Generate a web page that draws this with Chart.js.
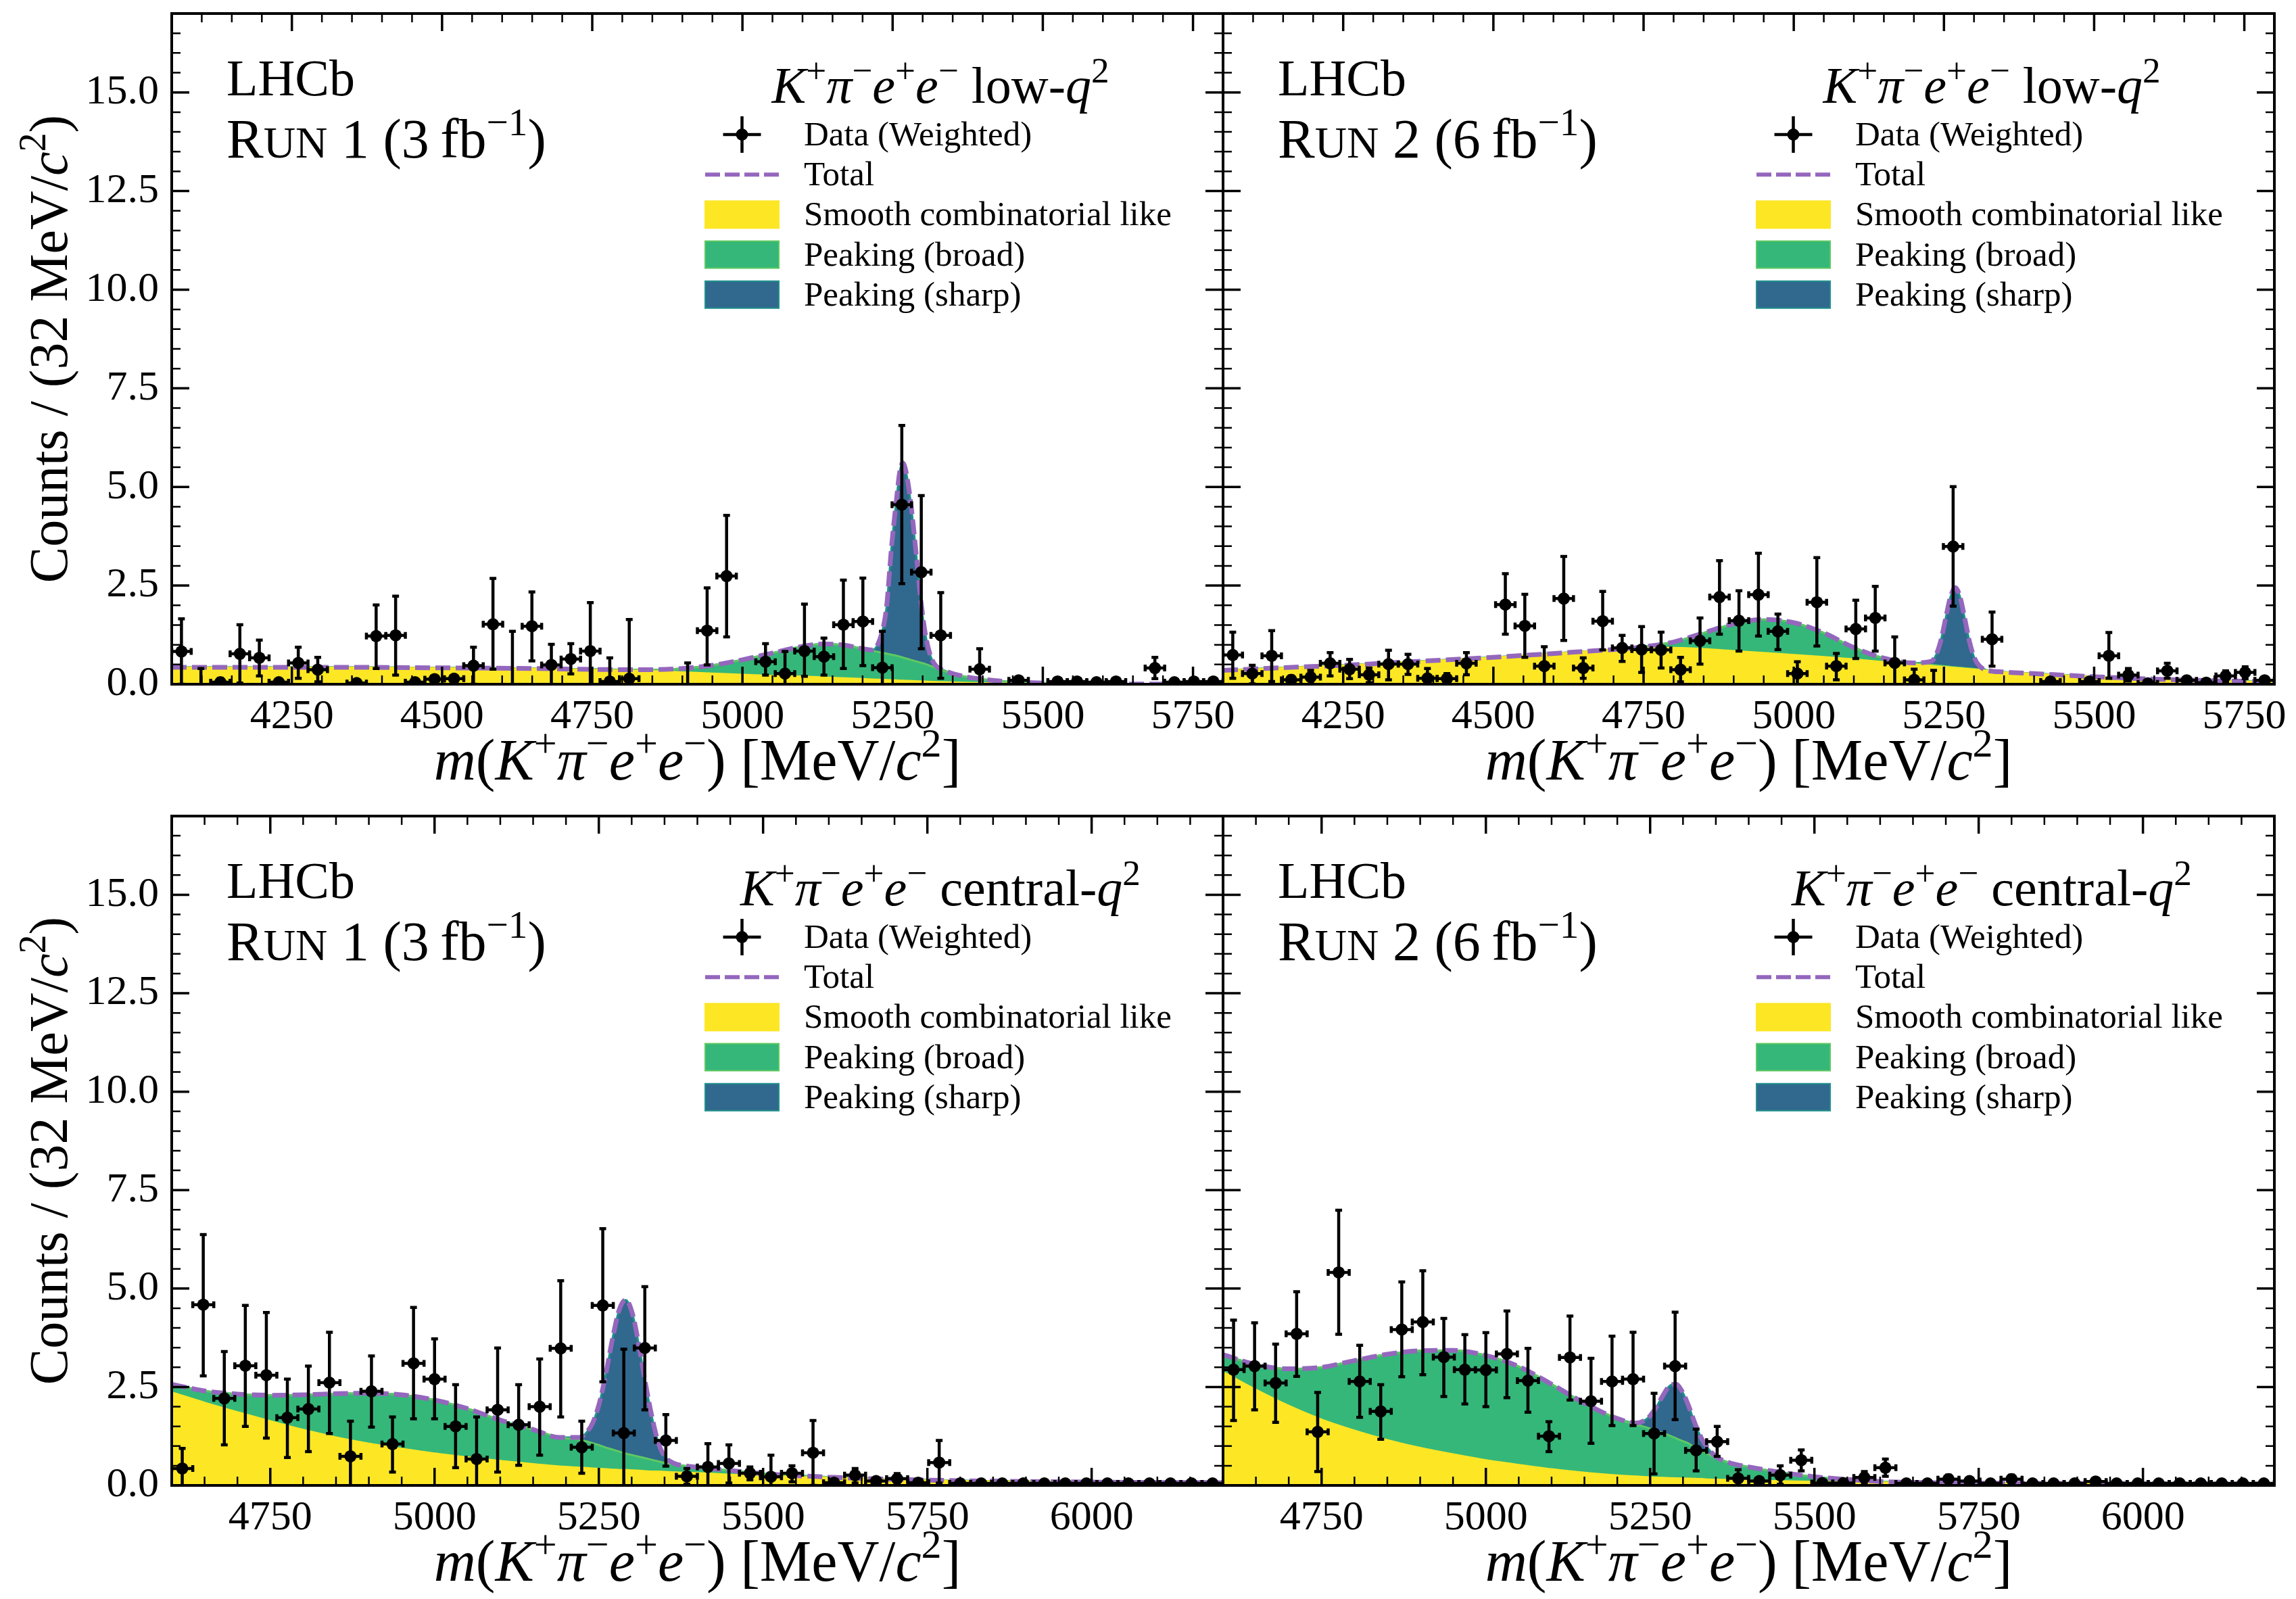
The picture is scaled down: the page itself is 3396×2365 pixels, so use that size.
<!DOCTYPE html>
<html lang="en">
<head>
    <meta charset="UTF-8">
    <title>K+ pi- e+ e- mass fits</title>
    <script src="https://cdn.jsdelivr.net/npm/chart.js@4.4.1/dist/chart.umd.min.js"></script>
    <style>
        body { margin: 0; background: #fff; }
        #wrap { position: relative; width: 3396px; height: 2365px; }
        canvas { position: absolute; left: 0; top: 0; }
    </style>
</head>
<body>
<div id="wrap">
    <canvas id="lowRun1" width="3396" height="2365"></canvas>
    <canvas id="lowRun2" width="3396" height="2365"></canvas>
    <canvas id="centralRun1" width="3396" height="2365"></canvas>
    <canvas id="centralRun2" width="3396" height="2365"></canvas>
</div>
<script>
// binning of the mass windows
const lowRange = [4050, 5800];
const lowBins = 54;
const centralRange = [4600, 6200];
const centralBins = 50;

const lowTicks = [4250, 4500, 4750, 5000, 5250, 5500, 5750];
const centralTicks = [4750, 5000, 5250, 5500, 5750, 6000];
const countTicks = [0, 2.5, 5, 7.5, 10, 12.5, 15];

// weighted data, low q2, Run 1 (value, lower and upper end of the error bar)
const lowRun1Val = [0.83, -0.15, 0.05, 0.77, 0.67, 0.05, 0.54, 0.37, null, 0.03,
    1.22, 1.24, 0.05, 0.13, 0.14, 0.47, 1.52, -0.3, 1.47, 0.49,
    0.64, 0.84, 0.07, 0.14, null, null, -0.2, 1.36, 2.74, null,
    0.57, 0.27, 0.84, 0.70, 1.51, 1.59, 0.42, 4.55, 2.84, 1.24,
    null, 0.38, null, 0.10, null, 0.07, 0.07, 0.05, 0.07, null,
    0.41, 0.05, 0.07, 0.07];
const lowRun1Lo = [0.0, -0.6, 0.0, 0.03, 0.21, 0.0, 0.15, 0.06, null, 0.0,
    0.40, 0.23, 0.0, 0.06, 0.08, 0.0, 0.38, -1.0, 0.59, -0.03,
    0.26, -0.39, -0.53, -1.36, null, null, -0.94, 0.49, 1.20, null,
    0.23, -0.29, 0.20, 0.23, 0.40, 0.47, -0.50, 2.55, 0.90, 0.15,
    null, -0.14, null, 0.06, null, 0.04, 0.04, 0.02, 0.04, null,
    0.14, 0.02, 0.04, 0.04];
const lowRun1Hi = [1.66, 0.40, 0.15, 1.51, 1.12, 0.12, 0.94, 0.68, null, 0.08,
    2.01, 2.23, 0.10, 0.20, 0.20, 0.94, 2.68, 1.34, 2.34, 1.01,
    1.03, 2.07, 0.67, 1.64, null, null, 0.54, 2.44, 4.28, null,
    1.03, 0.83, 2.03, 1.17, 2.64, 2.69, 1.34, 6.56, 4.78, 2.32,
    null, 0.90, null, 0.14, null, 0.10, 0.10, 0.08, 0.10, null,
    0.68, 0.08, 0.10, 0.10];

// weighted data, low q2, Run 2
const lowRun2Val = [0.74, 0.27, 0.72, 0.11, 0.18, 0.53, 0.38, 0.24, 0.51, 0.51,
    0.15, 0.14, 0.53, null, 2.02, 1.48, 0.46, 2.17, 0.41, 1.60,
    0.92, 0.88, 0.87, 0.37, 1.10, 2.21, 1.61, 2.27, 1.34, 0.27,
    2.08, 0.46, 1.40, 1.68, 0.54, 0.11, -0.10, 3.49, null, 1.14,
    null, null, 0.07, null, 0.07, 0.72, 0.23, 0.02, 0.34, 0.10,
    0.04, 0.21, 0.30, 0.10];
const lowRun2Lo = [0.15, 0.01, 0.07, 0.0, 0.0, 0.21, 0.14, 0.04, 0.11, 0.25,
    -0.10, 0.0, 0.24, null, 1.27, 0.68, -0.03, 1.11, 0.15, 0.87,
    0.58, 0.30, 0.41, 0.06, 0.51, 1.27, 0.84, 1.22, 0.88, -0.03,
    0.97, 0.11, 0.65, 0.84, -0.10, -0.15, -0.50, 1.98, null, 0.46,
    null, null, 0.04, null, 0.04, 0.15, 0.08, 0.0, 0.15, 0.06,
    0.01, 0.07, 0.14, 0.06];
const lowRun2Hi = [1.32, 0.48, 1.36, 0.21, 0.35, 0.80, 0.63, 0.41, 0.86, 0.76,
    0.40, 0.27, 0.80, null, 2.80, 2.28, 0.95, 3.24, 0.67, 2.35,
    1.24, 1.46, 1.32, 0.68, 1.68, 3.13, 2.37, 3.32, 1.78, 0.57,
    3.21, 0.78, 2.13, 2.48, 1.20, 0.38, 0.35, 5.01, null, 1.83,
    null, null, 0.10, null, 0.10, 1.31, 0.40, 0.05, 0.53, 0.14,
    0.07, 0.34, 0.44, 0.14];

// weighted data, central q2, Run 1
const centralRun1Val = [0.43, 4.59, 2.21, 3.04, 2.80, 1.72, 1.94, 2.61, 0.74, 2.39,
    1.05, 3.10, 2.70, 1.50, 0.67, 1.92, 1.54, 2.00, 3.48, 0.97,
    4.57, 1.33, 3.49, 1.14, 0.23, 0.47, 0.56, 0.31, 0.22, 0.31,
    0.83, 0.07, 0.26, 0.11, 0.17, 0.07, 0.58, 0.05, 0.05, 0.05,
    0.05, 0.05, 0.05, 0.05, 0.05, 0.05, 0.05, 0.05, 0.05, 0.05];
const centralRun1Lo = [-0.08, 2.78, 1.03, 1.50, 1.20, 0.71, 0.86, 1.32, -0.15, 1.48,
    0.34, 1.69, 1.69, 0.45, -0.40, 0.34, 0.51, 0.77, 1.74, 0.31,
    2.63, -0.80, 1.92, 0.49, 0.03, -0.12, 0.06, 0.14, -0.33, 0.09,
    0.0, 0.04, 0.06, 0.07, 0.04, 0.04, 0.06, 0.02, 0.02, 0.02,
    0.02, 0.02, 0.02, 0.02, 0.02, 0.02, 0.02, 0.02, 0.02, 0.02];
const centralRun1Hi = [0.94, 6.37, 3.40, 4.57, 4.39, 2.70, 3.03, 3.89, 1.63, 3.29,
    1.74, 4.52, 3.72, 2.56, 1.74, 3.49, 2.56, 3.21, 5.20, 1.63,
    6.52, 3.46, 5.05, 1.80, 0.43, 1.06, 1.03, 0.47, 0.77, 0.50,
    1.65, 0.10, 0.43, 0.15, 0.30, 0.10, 1.14, 0.08, 0.08, 0.08,
    0.08, 0.08, 0.08, 0.08, 0.08, 0.08, 0.08, 0.08, 0.08, 0.08];

// weighted data, central q2, Run 2
const centralRun2Val = [2.94, 3.03, 2.60, 3.85, 1.36, 5.41, 2.64, 1.88, 3.96, 4.15,
    3.26, 2.94, 2.93, 3.34, 2.66, 1.25, 3.25, 2.14, 2.64, 2.70,
    1.32, 3.03, 0.89, 1.11, 0.18, 0.11, 0.26, 0.64, 0.06, 0.06,
    0.20, 0.45, 0.05, 0.05, 0.16, 0.11, 0.05, 0.16, 0.05, 0.05,
    0.05, 0.10, 0.05, 0.05, 0.05, 0.05, 0.05, 0.05, 0.05, 0.05];
const centralRun2Lo = [1.65, 1.92, 1.60, 2.77, 0.35, 3.84, 1.73, 1.17, 2.76, 2.81,
    2.26, 2.07, 2.00, 2.23, 1.86, 0.86, 2.17, 1.07, 1.52, 1.52,
    0.29, 1.67, 0.37, 0.74, -0.04, 0.07, 0.03, 0.37, 0.03, 0.03,
    0.05, 0.23, 0.02, 0.02, 0.06, 0.07, 0.02, 0.06, 0.02, 0.02,
    0.02, 0.06, 0.02, 0.02, 0.02, 0.02, 0.02, 0.02, 0.02, 0.02];
const centralRun2Hi = [4.20, 4.13, 3.59, 4.92, 2.36, 6.99, 3.56, 2.56, 5.17, 5.45,
    4.24, 3.83, 3.88, 4.43, 3.48, 1.62, 4.30, 3.23, 3.79, 3.89,
    2.34, 4.40, 1.43, 1.50, 0.40, 0.15, 0.50, 0.90, 0.09, 0.09,
    0.35, 0.67, 0.08, 0.08, 0.26, 0.15, 0.08, 0.26, 0.08, 0.08,
    0.08, 0.14, 0.08, 0.08, 0.08, 0.08, 0.08, 0.08, 0.08, 0.08];

// fit components sampled along the mass axis
const lowRun1Mass = [4050, 4150, 4250, 4350, 4450, 4550, 4650, 4750, 4800, 4850,
    4900, 4950, 5000, 5050, 5100, 5135, 5170, 5200, 5216, 5232,
    5240, 5248, 5256, 5262, 5267, 5272, 5280, 5288, 5296, 5304,
    5312, 5320, 5336, 5360, 5400, 5450, 5500, 5600, 5700, 5800];
const lowRun1Comb = [0.43, 0.43, 0.43, 0.43, 0.42, 0.41, 0.40, 0.37, 0.36, 0.34,
    0.31, 0.28, 0.25, 0.22, 0.20, 0.18, 0.16, 0.14, 0.13, 0.12,
    0.115, 0.11, 0.105, 0.10, 0.098, 0.095, 0.09, 0.085, 0.08, 0.075,
    0.07, 0.065, 0.058, 0.048, 0.036, 0.025, 0.017, 0.008, 0.004, 0.002];
const lowRun1Broad = [0, 0, 0, 0, 0, 0, 0, 0.005, 0.01, 0.03,
    0.09, 0.20, 0.37, 0.57, 0.76, 0.84, 0.83, 0.76, 0.72, 0.68,
    0.66, 0.64, 0.62, 0.60, 0.58, 0.56, 0.53, 0.50, 0.47, 0.44,
    0.40, 0.36, 0.28, 0.18, 0.09, 0.035, 0.012, 0.002, 0, 0];
const lowRun1Sharp = [0, 0, 0, 0, 0, 0, 0, 0, 0, 0,
    0, 0, 0, 0, 0, 0, 0, 0, 0.02, 0.5,
    1.2, 2.7, 3.9, 4.7, 4.93, 4.75, 4.0, 2.9, 1.7, 0.8,
    0.3, 0.08, 0.01, 0, 0, 0, 0, 0, 0, 0];

const lowRun2Mass = [4050, 4150, 4250, 4350, 4450, 4550, 4650, 4700, 4750, 4800,
    4850, 4900, 4950, 5000, 5050, 5100, 5150, 5200, 5229, 5237,
    5245, 5253, 5261, 5269, 5277, 5285, 5293, 5301, 5309, 5320,
    5350, 5400, 5500, 5600, 5700, 5800];
const lowRun2Comb = [0.35, 0.42, 0.48, 0.56, 0.64, 0.73, 0.83, 0.88, 0.92, 0.93,
    0.90, 0.85, 0.80, 0.75, 0.70, 0.64, 0.57, 0.51, 0.47, 0.46,
    0.45, 0.44, 0.43, 0.42, 0.41, 0.40, 0.39, 0.38, 0.37, 0.35,
    0.31, 0.27, 0.19, 0.13, 0.09, 0.06];
const lowRun2Broad = [0, 0, 0, 0, 0, 0, 0, 0, 0.03, 0.14,
    0.40, 0.68, 0.84, 0.81, 0.60, 0.29, 0.09, 0.03, 0.02, 0.018,
    0.016, 0.014, 0.012, 0.01, 0.009, 0.008, 0.007, 0.006, 0.004, 0.002,
    0, 0, 0, 0, 0, 0];
const lowRun2Sharp = [0, 0, 0, 0, 0, 0, 0, 0, 0, 0,
    0, 0, 0, 0, 0, 0, 0, 0, 0.09, 0.27,
    0.65, 1.23, 1.78, 2.02, 1.78, 1.23, 0.65, 0.27, 0.09, 0.01,
    0, 0, 0, 0, 0, 0];

const centralRun1Mass = [4600, 4650, 4700, 4750, 4800, 4850, 4900, 4950, 5000, 5050,
    5100, 5150, 5190, 5221, 5231, 5241, 5251, 5261, 5271, 5281,
    5291, 5301, 5311, 5321, 5331, 5341, 5351, 5366, 5380, 5400,
    5450, 5500, 5600, 5700, 5800, 5900, 6000, 6100, 6200];
const centralRun1Comb = [2.37, 2.11, 1.87, 1.64, 1.42, 1.23, 1.07, 0.94, 0.82, 0.72,
    0.63, 0.55, 0.49, 0.46, 0.45, 0.44, 0.43, 0.42, 0.41, 0.40,
    0.40, 0.39, 0.38, 0.37, 0.36, 0.36, 0.35, 0.34, 0.33, 0.32,
    0.28, 0.25, 0.20, 0.15, 0.12, 0.10, 0.085, 0.075, 0.07];
const centralRun1Broad = [0.20, 0.29, 0.45, 0.65, 0.88, 1.10, 1.27, 1.36, 1.35, 1.23,
    1.03, 0.87, 0.73, 0.70, 0.67, 0.63, 0.59, 0.54, 0.50, 0.46,
    0.41, 0.38, 0.35, 0.32, 0.29, 0.25, 0.22, 0.19, 0.17, 0.14,
    0.10, 0.05, 0.01, 0.005, 0, 0, 0, 0, 0];
const centralRun1Sharp = [0, 0, 0, 0, 0, 0, 0, 0, 0, 0,
    0, 0, 0, 0.06, 0.22, 0.53, 1.08, 1.9, 2.83, 3.6,
    3.9, 3.6, 2.83, 1.9, 1.08, 0.45, 0.15, 0.02, 0, 0,
    0, 0, 0, 0, 0, 0, 0, 0, 0];

const centralRun2Mass = [4600, 4650, 4700, 4750, 4800, 4850, 4900, 4950, 5000, 5050,
    5100, 5150, 5200, 5229, 5239, 5249, 5259, 5269, 5279, 5289,
    5299, 5309, 5319, 5329, 5339, 5349, 5370, 5400, 5450, 5500,
    5550, 5600, 5700, 5800, 5900, 6000, 6100, 6200];
const centralRun2Comb = [2.89, 2.44, 2.03, 1.68, 1.40, 1.16, 0.96, 0.80, 0.65, 0.53,
    0.42, 0.33, 0.26, 0.235, 0.225, 0.215, 0.205, 0.20, 0.195, 0.19,
    0.185, 0.18, 0.175, 0.17, 0.16, 0.155, 0.145, 0.135, 0.115, 0.10,
    0.09, 0.08, 0.065, 0.055, 0.05, 0.045, 0.04, 0.04];
const centralRun2Broad = [0.43, 0.63, 0.93, 1.32, 1.77, 2.17, 2.46, 2.63, 2.65, 2.49,
    2.15, 1.76, 1.44, 1.305, 1.275, 1.235, 1.185, 1.13, 1.075, 1.01,
    0.945, 0.88, 0.775, 0.70, 0.63, 0.545, 0.435, 0.335, 0.215, 0.12,
    0.06, 0.02, 0, 0, 0, 0, 0, 0];
const centralRun2Sharp = [0, 0, 0, 0, 0, 0, 0, 0, 0, 0,
    0, 0, 0, 0.045, 0.13, 0.30, 0.59, 0.94, 1.25, 1.37,
    1.25, 0.94, 0.59, 0.30, 0.13, 0.045, 0, 0, 0, 0,
    0, 0, 0, 0, 0, 0, 0, 0];

const W = 3396, H = 2365;
const AXW = 160, AXH = 160;
const SERIF = '"Liberation Serif", "DejaVu Serif", serif';
const YELLOW = '#fde725', GREEN = '#35b779', BLUE = '#31688e', PURPLE = '#9467bd';
const GREEN_EDGE = '#5ec962', BLUE_EDGE = '#21918c';

const decay = [['K', 'i'], ['+', 's'], ['\u03c0', 'i'], ['\u2212', 's'], ['e', 'i'], ['+', 's'], ['e', 'i'], ['\u2212', 's']];
const xTitle = [['m', 'i'], ['(', '']].concat(decay, [[') [MeV/', ''], ['c', 'i'], ['2', 's'], [']', '']]);
const yTitle = [['Counts / (32 MeV/', ''], ['c', 'i'], ['2', 's'], [')', '']];

function fontFor(st, size) {
    let s = size;
    if (st.includes('s')) s = size * 0.7;
    if (st.includes('c')) s = size * 0.8;
    return (st.includes('i') ? 'italic ' : '') + s + 'px ' + SERIF;
}

// draws a run of text pieces (italic / superscript / small caps) on one baseline
function drawRich(ctx, parts, x, y, size, align) {
    let w = 0;
    parts.forEach(([t, st]) => { ctx.font = fontFor(st, size); w += ctx.measureText(t).width; });
    let cx = align === 'center' ? x - w / 2 : x;
    ctx.textAlign = 'left';
    ctx.textBaseline = 'alphabetic';
    ctx.fillStyle = '#000';
    parts.forEach(([t, st]) => {
        ctx.font = fontFor(st, size);
        ctx.fillText(t, cx, st.includes('s') ? y - size * 0.4 : y);
        cx += ctx.measureText(t).width;
    });
}

function decorations(p) {
    return {
        id: 'decorations',
        // error bars go under the markers
        beforeDatasetDraw(chart, args) {
            const ds = chart.data.datasets[args.index];
            if (!ds.errLo) return;
            const {ctx, chartArea: a, scales: {x, y}} = chart;
            ctx.save();
            ctx.beginPath();
            ctx.rect(a.left, a.top, a.right - a.left, a.bottom - a.top);
            ctx.clip();
            ctx.strokeStyle = '#000';
            ctx.lineWidth = 4.5;
            const cap = 5;
            ds.data.forEach((pt, i) => {
                if (pt.y === null) return;
                const px = x.getPixelForValue(pt.x), py = y.getPixelForValue(pt.y);
                const yl = y.getPixelForValue(ds.errLo[i]), yh = y.getPixelForValue(ds.errHi[i]);
                const xl = x.getPixelForValue(pt.x - ds.halfBin), xr = x.getPixelForValue(pt.x + ds.halfBin);
                ctx.beginPath();
                ctx.moveTo(px, yl); ctx.lineTo(px, yh);
                ctx.moveTo(xl, py); ctx.lineTo(xr, py);
                ctx.moveTo(px - cap, yl); ctx.lineTo(px + cap, yl);
                ctx.moveTo(px - cap, yh); ctx.lineTo(px + cap, yh);
                ctx.moveTo(xl, py - cap); ctx.lineTo(xl, py + cap);
                ctx.moveTo(xr, py - cap); ctx.lineTo(xr, py + cap);
                ctx.stroke();
            });
            ctx.restore();
        },
        // frame with inward ticks on all four sides
        afterDatasetsDraw(chart) {
            const {ctx, chartArea: a, scales: {x, y}} = chart;
            ctx.save();
            ctx.strokeStyle = '#000';
            const xt = (v, len) => {
                const px = x.getPixelForValue(v);
                ctx.moveTo(px, a.bottom); ctx.lineTo(px, a.bottom - len);
                ctx.moveTo(px, a.top); ctx.lineTo(px, a.top + len);
            };
            const yt = (v, len) => {
                const py = y.getPixelForValue(v);
                ctx.moveTo(a.left, py); ctx.lineTo(a.left + len, py);
                ctx.moveTo(a.right, py); ctx.lineTo(a.right - len, py);
            };
            ctx.lineWidth = 2.5;
            ctx.beginPath();
            for (let v = Math.ceil(x.min / 50) * 50; v < x.max; v += 50) if (v % 250) xt(v, 13);
            for (let v = 0.5; v < y.max; v += 0.5) if (v % 2.5) yt(v, 13);
            ctx.stroke();
            ctx.lineWidth = 3.5;
            ctx.beginPath();
            p.xTicks.forEach(v => xt(v, 26));
            countTicks.forEach(v => yt(v, 26));
            ctx.stroke();
            ctx.lineWidth = 4;
            ctx.strokeRect(a.left, a.top, a.right - a.left, a.bottom - a.top);
            ctx.restore();
        },
        afterDraw(chart) {
            const {ctx, chartArea: a} = chart;
            const pl = a.left, pt = a.top;
            ctx.save();
            drawRich(ctx, [['LHCb', '']], pl + 81, pt + 121, 76);
            drawRich(ctx, [['R', ''], ['UN', 'c'], [' ' + p.run + ' (' + p.lumi + '\u2009fb', ''], ['\u22121', 's'], [')', '']], pl + 81, pt + 213, 82);
            drawRich(ctx, decay.concat([[' ' + p.q2 + '-', ''], ['q', 'i'], ['2', 's']]), pl + 1137, pt + 132, 76, 'center');

            // legend
            const hx = pl + 789, hw = 109, tx = pl + 935;
            const rows = [0, 1, 2, 3, 4].map(i => pt + 179 + 59.2 * i);
            ctx.strokeStyle = '#000';
            ctx.lineWidth = 4.5;
            ctx.beginPath();
            ctx.moveTo(hx + hw / 2, rows[0] - 27); ctx.lineTo(hx + hw / 2, rows[0] + 27);
            ctx.moveTo(hx + hw / 2 - 28, rows[0]); ctx.lineTo(hx + hw / 2 + 28, rows[0]);
            ctx.stroke();
            ctx.fillStyle = '#000';
            ctx.beginPath();
            ctx.arc(hx + hw / 2, rows[0], 9, 0, 2 * Math.PI);
            ctx.fill();
            ctx.strokeStyle = PURPLE;
            ctx.lineWidth = 6;
            ctx.setLineDash([22, 7]);
            ctx.beginPath();
            ctx.moveTo(hx, rows[1]); ctx.lineTo(hx + hw, rows[1]);
            ctx.stroke();
            ctx.setLineDash([]);
            [[YELLOW, YELLOW], [GREEN, GREEN_EDGE], [BLUE, BLUE_EDGE]].forEach(([fill, edge], i) => {
                ctx.fillStyle = fill;
                ctx.fillRect(hx, rows[i + 2] - 20, hw, 40);
                ctx.strokeStyle = edge;
                ctx.lineWidth = 2;
                ctx.strokeRect(hx, rows[i + 2] - 20, hw, 40);
            });
            ['Data (Weighted)', 'Total', 'Smooth combinatorial like', 'Peaking (broad)', 'Peaking (sharp)']
                .forEach((t, i) => drawRich(ctx, [[t, '']], tx, rows[i] + 16, 51));

            // axis titles
            drawRich(ctx, xTitle, (a.left + a.right) / 2, a.bottom + 141, 86, 'center');
            if (p.yLabels) {
                ctx.translate(99, (a.top + a.bottom) / 2);
                ctx.rotate(-Math.PI / 2);
                drawRich(ctx, yTitle, 0, 0, 80, 'center');
            }
            ctx.restore();
        }
    };
}

function build(p) {
    const half = (p.range[1] - p.range[0]) / p.bins / 2;
    const centres = p.val.map((_, i) => p.range[0] + (2 * i + 1) * half);
    const pairs = ys => p.mass.map((m, i) => ({x: m, y: ys[i]}));
    const total = p.mass.map((_, i) => p.comb[i] + p.broad[i] + p.sharp[i]);
    const curve = {pointRadius: 0, cubicInterpolationMode: 'monotone', clip: 0, stack: 'fit'};

    new Chart(document.getElementById(p.id), {
        type: 'line',
        data: {
            datasets: [
                {...curve, label: 'Smooth combinatorial like', data: pairs(p.comb), backgroundColor: YELLOW,
                    borderColor: YELLOW, borderWidth: 2, fill: 'origin', order: 0},
                {...curve, label: 'Peaking (broad)', data: pairs(p.broad), backgroundColor: GREEN,
                    borderColor: GREEN_EDGE, borderWidth: 3, fill: '-1', order: 1},
                {...curve, label: 'Peaking (sharp)', data: pairs(p.sharp), backgroundColor: BLUE,
                    borderColor: BLUE_EDGE, borderWidth: 3, fill: '-1', order: 2},
                {...curve, stack: 'total', label: 'Total', data: pairs(total), borderColor: PURPLE,
                    borderWidth: 7, borderDash: [22, 8], fill: false, order: -1},
                {label: 'Data (Weighted)', stack: 'data', data: centres.map((c, i) => ({x: c, y: p.val[i]})),
                    showLine: false, pointRadius: 9, pointHoverRadius: 9, pointBackgroundColor: '#000',
                    pointBorderWidth: 0, clip: 0, order: -2, errLo: p.lo, errHi: p.hi, halfBin: half}
            ]
        },
        options: {
            responsive: false,
            animation: false,
            events: [],
            layout: {padding: {left: p.left - AXW, right: W - p.right, top: p.top, bottom: H - p.bottom - AXH}},
            plugins: {legend: {display: false}, tooltip: {enabled: false}},
            scales: {
                x: {
                    type: 'linear', min: p.range[0], max: p.range[1],
                    grid: {display: false, drawTicks: false}, border: {display: false},
                    ticks: {font: {family: SERIF, size: 62}, color: '#000', padding: 12, maxRotation: 0,
                        autoSkip: false, callback: v => String(v)},
                    afterBuildTicks: s => { s.ticks = p.xTicks.map(v => ({value: v})); },
                    afterFit: s => { s.height = AXH; s.paddingLeft = 0; s.paddingRight = 0; }
                },
                y: {
                    type: 'linear', min: 0, max: 17, stacked: true,
                    grid: {display: false, drawTicks: false}, border: {display: false},
                    ticks: {display: p.yLabels, font: {family: SERIF, size: 62}, color: '#000', padding: 19,
                        callback: v => v.toFixed(1)},
                    afterBuildTicks: s => { s.ticks = countTicks.map(v => ({value: v})); },
                    afterFit: s => { s.width = AXW; s.paddingTop = 0; s.paddingBottom = 0; }
                }
            }
        },
        plugins: [decorations(p)]
    });
}

[
    {id: 'lowRun1', left: 254, right: 1809, top: 20, bottom: 1012, range: lowRange, bins: lowBins,
        xTicks: lowTicks, run: '1', lumi: '3', q2: 'low', yLabels: true,
        val: lowRun1Val, lo: lowRun1Lo, hi: lowRun1Hi,
        mass: lowRun1Mass, comb: lowRun1Comb, broad: lowRun1Broad, sharp: lowRun1Sharp},
    {id: 'lowRun2', left: 1809, right: 3364, top: 20, bottom: 1012, range: lowRange, bins: lowBins,
        xTicks: lowTicks, run: '2', lumi: '6', q2: 'low', yLabels: false,
        val: lowRun2Val, lo: lowRun2Lo, hi: lowRun2Hi,
        mass: lowRun2Mass, comb: lowRun2Comb, broad: lowRun2Broad, sharp: lowRun2Sharp},
    {id: 'centralRun1', left: 254, right: 1809, top: 1207, bottom: 2197, range: centralRange, bins: centralBins,
        xTicks: centralTicks, run: '1', lumi: '3', q2: 'central', yLabels: true,
        val: centralRun1Val, lo: centralRun1Lo, hi: centralRun1Hi,
        mass: centralRun1Mass, comb: centralRun1Comb, broad: centralRun1Broad, sharp: centralRun1Sharp},
    {id: 'centralRun2', left: 1809, right: 3364, top: 1207, bottom: 2197, range: centralRange, bins: centralBins,
        xTicks: centralTicks, run: '2', lumi: '6', q2: 'central', yLabels: false,
        val: centralRun2Val, lo: centralRun2Lo, hi: centralRun2Hi,
        mass: centralRun2Mass, comb: centralRun2Comb, broad: centralRun2Broad, sharp: centralRun2Sharp}
].forEach(build);
</script>
</body>
</html>
